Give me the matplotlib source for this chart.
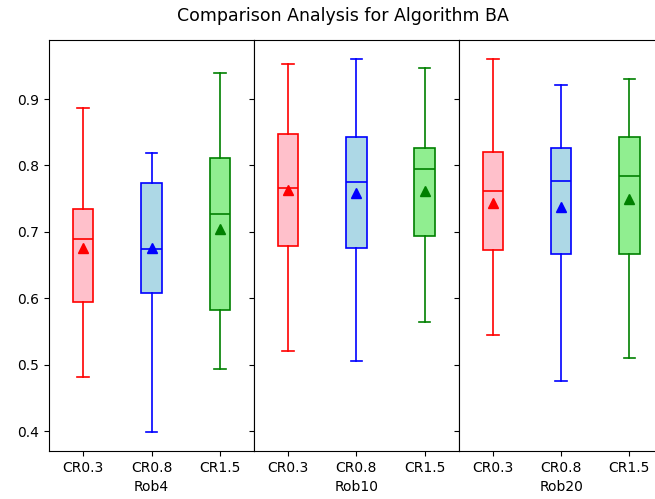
import numpy as np
import matplotlib
matplotlib.use("Agg")
import matplotlib.pyplot as plt

groups = ["Rob4", "Rob10", "Rob20"]
labels = ["CR0.3", "CR0.8", "CR1.5"]
edge_colors = ["red", "blue", "green"]
face_colors = ["pink", "lightblue", "lightgreen"]

# box statistics, one row per group, one entry per CR
whislo = [[0.482, 0.398, 0.494],
          [0.521, 0.506, 0.564],
          [0.545, 0.475, 0.510]]
q1 = [[0.595, 0.608, 0.583],
      [0.679, 0.675, 0.694],
      [0.673, 0.666, 0.666]]
med = [[0.690, 0.674, 0.727],
       [0.766, 0.775, 0.795],
       [0.762, 0.777, 0.784]]
q3 = [[0.734, 0.774, 0.811],
      [0.848, 0.843, 0.827],
      [0.821, 0.826, 0.843]]
whishi = [[0.887, 0.819, 0.939],
          [0.953, 0.961, 0.946],
          [0.960, 0.921, 0.930]]
means = [[0.676, 0.675, 0.705],
         [0.763, 0.758, 0.762],
         [0.744, 0.738, 0.750]]

fig, axes = plt.subplots(1, 3, sharey=True, figsize=(6.55, 4.99), dpi=100)
fig.subplots_adjust(left=0.075, right=1.013, bottom=0.096, top=0.92, wspace=0)

for g, ax in enumerate(axes):
    for i in range(3):
        stats = [dict(label=labels[i], whislo=whislo[g][i], q1=q1[g][i],
                      med=med[g][i], q3=q3[g][i], whishi=whishi[g][i],
                      mean=means[g][i], fliers=[])]
        c = edge_colors[i]
        ax.bxp(stats, positions=[i + 1], widths=0.3, capwidths=0.17,
               showmeans=True, patch_artist=True,
               boxprops=dict(facecolor=face_colors[i], edgecolor=c, linewidth=1.2),
               medianprops=dict(color=c, linewidth=1.2),
               whiskerprops=dict(color=c, linewidth=1.2),
               capprops=dict(color=c, linewidth=1.2),
               meanprops=dict(marker="^", markerfacecolor=c,
                              markeredgecolor=c, markersize=7))
    ax.set_xlim(0.5, 3.5)
    ax.set_xticks([1, 2, 3])
    ax.set_xticklabels(labels)
    ax.set_xlabel(groups[g], labelpad=4)

axes[0].set_ylim(0.370, 0.989)
axes[0].set_yticks([0.4, 0.5, 0.6, 0.7, 0.8, 0.9])
fig.suptitle("Comparison Analysis for Algorithm BA", fontsize=12.5, x=0.523, y=0.985)

fig.savefig("out.png", dpi=100)
